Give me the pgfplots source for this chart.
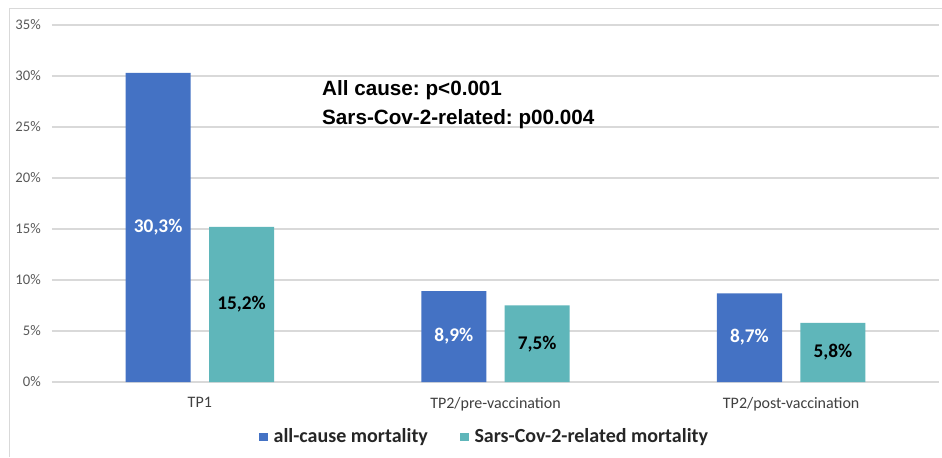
\documentclass[border=0pt]{standalone}
\usepackage{pgfplots}
\pgfplotsset{compat=1.18}
\usepackage{fontspec}
\setmainfont{Carlito}
\newfontfamily\arial{Liberation Sans}
\definecolor{cblue}{HTML}{4472C4}
\definecolor{cteal}{HTML}{5FB6BA}
\definecolor{gridc}{HTML}{D9D9D9}
\definecolor{ticktext}{HTML}{595959}
\definecolor{cattext}{HTML}{404040}
\frenchspacing
\begin{document}
\begin{tikzpicture}
\useasboundingbox (0,0) rectangle (706.5pt,342.75pt);
\fill[white] (0,0) rectangle (706.5pt,342.75pt);
\draw[gridc, line width=0.75pt] (6.75pt,0) -- (6.75pt,336pt) -- (706.5pt,336pt);
\begin{axis}[
  at={(39pt,56.25pt)}, anchor=south west,
  scale only axis, width=665.25pt, height=267.75pt,
  xmin=-0.5, xmax=2.5, ymin=0, ymax=35,
  axis line style={draw=none},
  major tick length=0pt,
  ymajorgrids, grid style={gridc, line width=0.9pt},
  xtick={0,1,2},
  xticklabels={TP1,TP2/pre-vaccination,TP2/post-vaccination},
  xticklabel style={font=\fontsize{12}{14}\selectfont, text=cattext, inner sep=0pt, anchor=north, yshift=-11.5pt},
  ytick={0,5,...,35},
  yticklabel={\pgfmathprintnumber{\tick}\%},
  /pgf/number format/assume math mode=true,
  yticklabel style={font=\fontsize{11}{13}\selectfont, text=ticktext, inner sep=0pt, anchor=east, xshift=-8.25pt},
  legend columns=2,
  legend style={at={(0.488,-0.154)}, anchor=center, draw=none, fill=none,
    font=\bfseries\fontsize{15}{17}\selectfont, text=black!85,
    /tikz/every odd column/.append style={column sep=2.5pt},
    /tikz/every even column/.append style={column sep=22pt}},
  clip=false,
]
\addplot[ybar, bar width=0.22, bar shift=-0.141, fill=cblue, draw=none,
  nodes near coords, point meta=explicit symbolic,
  visualization depends on={y \as \rawy},
  every node near coord/.append style={anchor=center, shift={(axis direction cs:-0.141,-\rawy/2)}, text=white, font=\bfseries\fontsize{14.5}{16}\selectfont},
  legend image code/.code={\fill[cblue] (0pt,-3.2pt) rectangle (6.5pt,3.2pt);}]
  table[x=x, y=y, meta=label] {
x y label
0 30.3 30,3\%
1 8.9 8,9\%
2 8.7 8,7\%
};
\addlegendentry{all-cause mortality}
\addplot[ybar, bar width=0.22, bar shift=0.141, fill=cteal, draw=none,
  nodes near coords, point meta=explicit symbolic,
  visualization depends on={y \as \rawy},
  every node near coord/.append style={anchor=center, shift={(axis direction cs:0.141,-\rawy/2)}, text=black, font=\bfseries\fontsize{14.5}{16}\selectfont},
  legend image code/.code={\fill[cteal] (0pt,-3.2pt) rectangle (6.5pt,3.2pt);}]
  table[x=x, y=y, meta=label] {
x y label
0 15.2 15,2\%
1 7.5 7,5\%
2 5.8 5,8\%
};
\addlegendentry{Sars-Cov-2-related mortality}
\node[anchor=base west, inner sep=0pt, font=\arial\bfseries\fontsize{15.5}{18}\selectfont] at (axis cs:0.413,28.05) {All cause: p<0.001};
\node[anchor=base west, inner sep=0pt, font=\arial\bfseries\fontsize{15.5}{18}\selectfont] at (axis cs:0.413,25.2) {Sars-Cov-2-related: p00.004};
\end{axis}
\end{tikzpicture}
\end{document}
